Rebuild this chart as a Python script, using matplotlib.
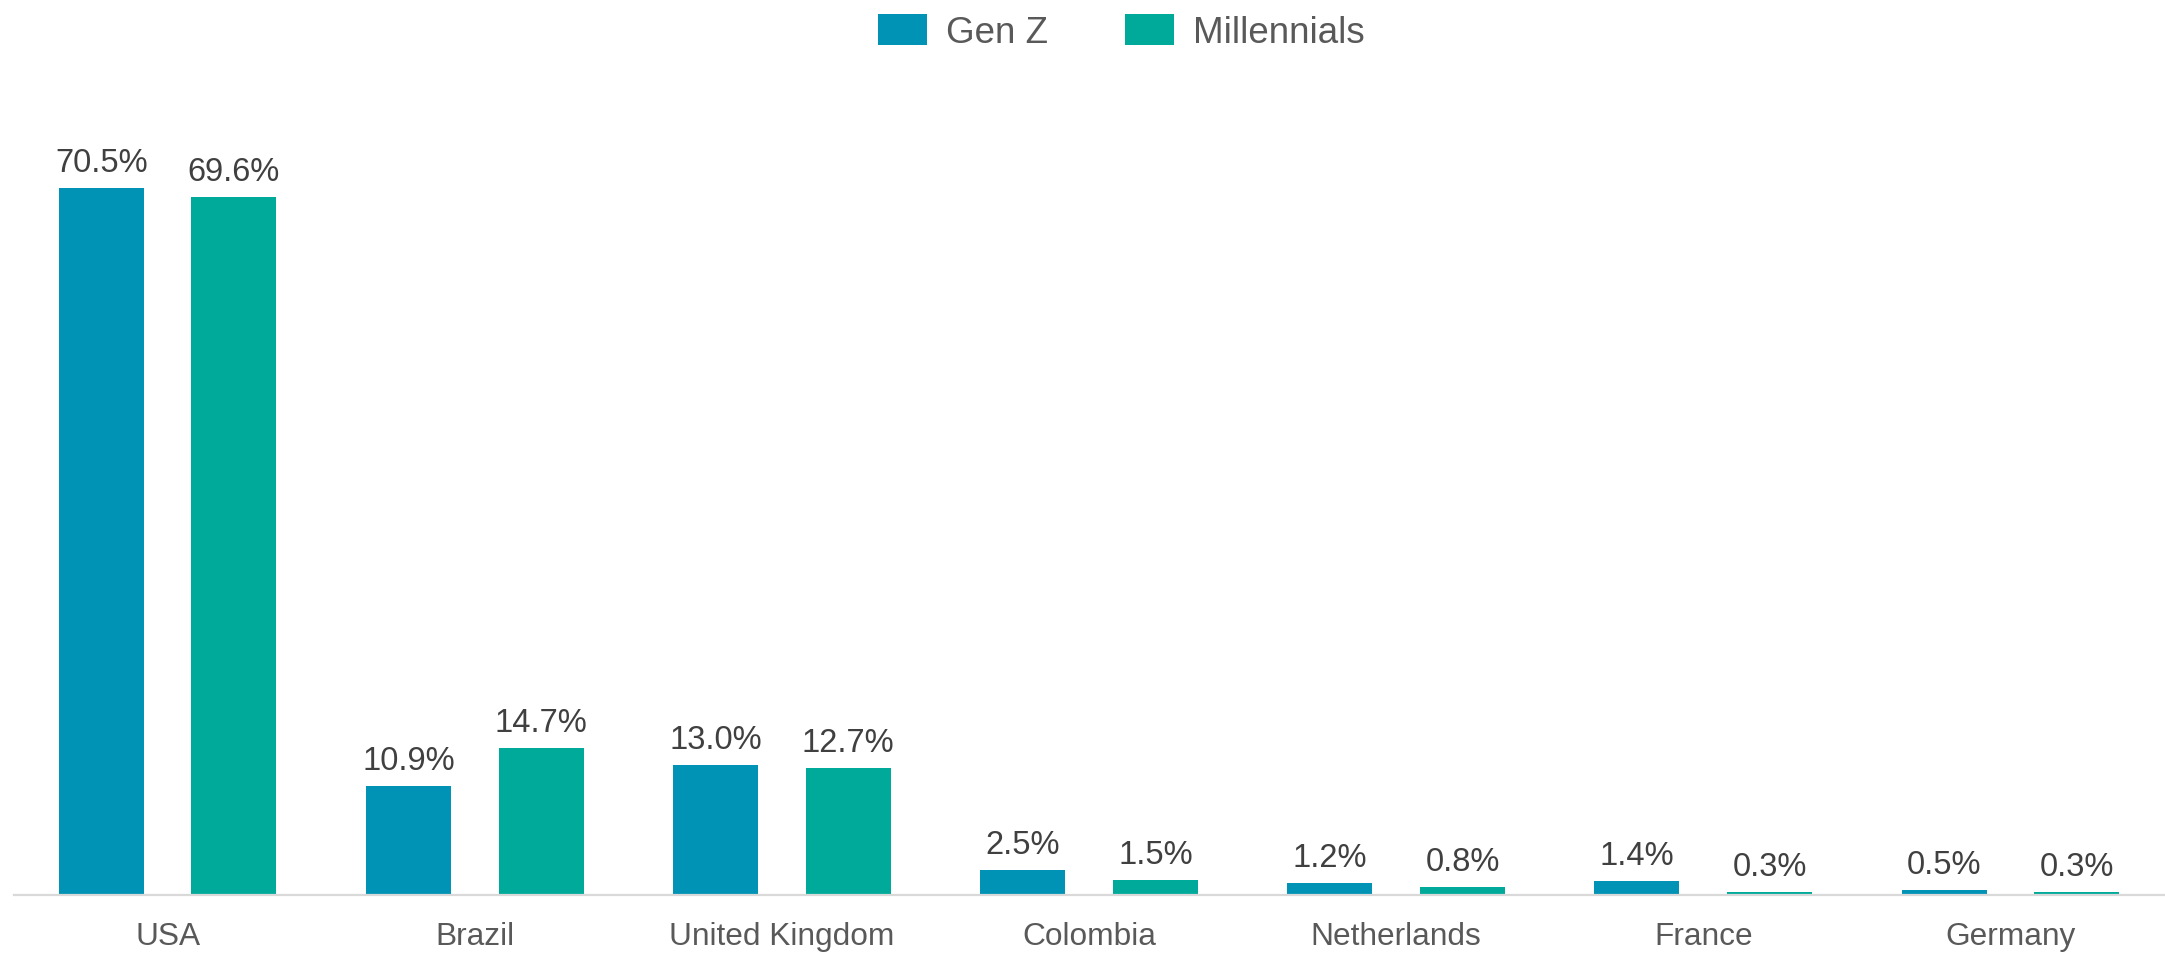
import matplotlib.pyplot as plt
import numpy as np

plt.rcParams["font.family"] = ["Liberation Sans", "DejaVu Sans"]

countries = ["USA", "Brazil", "United Kingdom", "Colombia", "Netherlands", "France", "Germany"]
gen_z = [70.5, 10.9, 13.0, 2.5, 1.2, 1.4, 0.5]
millennials = [69.6, 14.7, 12.7, 1.5, 0.8, 0.3, 0.3]

blue = "#0093B5"
teal = "#00AA9A"

fig = plt.figure(figsize=(21.65, 9.54), dpi=100)
ax = fig.add_axes([14 / 2165, 58 / 954, 2150 / 2165, 820 / 954])

x = np.arange(len(countries))
width = 0.277
offset = 0.216

b1 = ax.bar(x - offset, gen_z, width, color=blue, label="Gen Z")
b2 = ax.bar(x + offset, millennials, width, color=teal, label="Millennials")

for bars in (b1, b2):
    ax.bar_label(bars, labels=[f"{v:.1f}%" for v in bars.datavalues],
                 padding=7, fontsize=23.5, color="#404040")

ax.set_xlim(-0.5, len(countries) - 0.5)
ax.set_ylim(0, 81.75)
ax.set_xticks(x)
ax.set_xticklabels(countries, fontsize=22.8, color="#595959")
ax.tick_params(axis="x", length=0, pad=19)
ax.set_yticks([])

for side in ("top", "right", "left"):
    ax.spines[side].set_visible(False)
ax.spines["bottom"].set_color("#D9D9D9")
ax.spines["bottom"].set_linewidth(1.6)

fig.legend(loc="upper center", bbox_to_anchor=(0.518, 1.0), ncol=2, frameon=False,
           fontsize=26.5, labelcolor="#595959", handlelength=1.33, handleheight=0.95,
           handletextpad=0.52, columnspacing=2.1, borderaxespad=0.0)

fig.savefig("out.png", dpi=100)
